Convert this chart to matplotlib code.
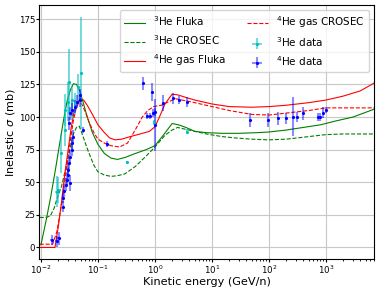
import numpy as np
import matplotlib.pyplot as plt

# model curves
e_he3_fluka = [0.0100, 0.0125, 0.015, 0.018, 0.021, 0.025, 0.029, 0.033, 0.037, 0.042, 0.048, 0.056,
               0.065, 0.08, 0.10, 0.13, 0.17, 0.22, 0.3, 0.45, 0.7, 1.0, 1.4, 2.0, 2.6, 3.5, 5, 8, 15,
               30, 60, 100, 200, 400, 800, 1500, 3000, 7000]
s_he3_fluka = [2, 22, 40, 60, 78, 98, 113, 121, 125.5, 125, 120, 110, 100, 88, 79, 72, 68.5, 67.5, 69,
               72, 75, 78, 86, 95, 94, 92, 89, 88, 87.5, 87.5, 88, 88.5, 90, 92, 94, 97, 100, 106]

e_he3_crosec = [0.0095, 0.012, 0.0145, 0.017, 0.019, 0.023, 0.027, 0.032, 0.037, 0.042, 0.047, 0.052,
                0.06, 0.07, 0.085, 0.10, 0.13, 0.17, 0.22, 0.3, 0.45, 0.7, 1.0, 1.5, 2.0, 2.5, 3.5, 5,
                8, 15, 25, 50, 100, 200, 500, 1000, 2000, 7000]
s_he3_crosec = [23, 23, 24, 30, 37, 47, 60, 75, 87, 92, 93, 88, 80, 72, 63, 58, 55.5, 54.5, 55, 56.5,
                62, 70, 77, 86, 90, 92, 90.5, 89, 87, 85, 84, 83, 82.5, 83, 85, 86.5, 87, 87]

e_he4_fluka = [0.0095, 0.0176, 0.020, 0.023, 0.026, 0.030, 0.034, 0.038, 0.043, 0.049, 0.056, 0.065,
               0.08, 0.10, 0.13, 0.16, 0.2, 0.26, 0.37, 0.55, 0.8, 1.0, 1.2, 1.5, 2.0, 2.5, 3.5, 5, 10,
               20, 50, 100, 200, 500, 1000, 2000, 4000, 7000]
s_he4_fluka = [0, 0, 15, 35, 55, 75, 92, 104, 111, 114, 113, 109, 102, 94, 88, 84, 82.5, 83, 85, 87,
               89, 92.5, 100, 110, 117.5, 117, 115, 113, 110, 108, 107.5, 108, 109, 111, 113, 116,
               120, 126]

e_he4_crosec = [0.0095, 0.016, 0.019, 0.022, 0.025, 0.029, 0.033, 0.037, 0.041, 0.046, 0.052, 0.06,
                0.07, 0.085, 0.1, 0.13, 0.17, 0.24, 0.33, 0.45, 0.6, 0.75, 0.95, 1.3, 1.8, 2.3, 3, 5,
                10, 20, 50, 100, 200, 500, 1000, 2000, 7000]
s_he4_crosec = [2.5, 2.5, 12, 28, 45, 65, 83, 97, 106, 111, 110, 104, 96, 88, 83, 80, 78, 77, 80, 90,
                100, 105, 108, 109, 112, 114, 113, 111, 108, 105, 102, 101.5, 103, 105, 107, 107, 107]

# measurements
e_he3 = [0.0188, 0.0201, 0.0229, 0.0263, 0.0266, 0.0300, 0.0305, 0.0344, 0.0350, 0.0393, 0.0450,
         0.0508, 0.321, 0.97, 3.7]
s_he3 = [42.8, 44, 72.2, 90, 105.4, 111.7, 127, 105.4, 113, 110.5, 123.2, 133.9, 65.3, 96, 88.7]
ds_he3 = [12, 10, 15, 12, 12, 15, 25, 8, 10, 8, 10, 43, 1, 2, 2]
de_he3 = [0.0008, 0, 0, 0, 0, 0, 0, 0, 0, 0, 0, 0, 0, 0, 0]

e_he4 = [0.0154, 0.0188, 0.0207, 0.0246, 0.0246, 0.0256, 0.0270, 0.0281, 0.0293, 0.0301, 0.0310,
         0.0322, 0.0322, 0.0344, 0.0344, 0.0368, 0.0305, 0.0326, 0.0350, 0.0400, 0.0426, 0.0475,
         0.0488, 0.0557, 0.1435, 0.628, 0.72, 0.82, 0.88, 0.94, 1.01, 1.0, 1.4, 2.11, 2.6, 3.7,
         46.6, 97.5, 146, 199, 261, 306, 400, 733, 800, 890, 1000]
s_he4 = [5.9, 4.6, 7.2, 31.4, 37.8, 42.9, 48, 51.8, 55.6, 59.5, 64.6, 49.3, 69.6, 74.8, 79.9, 84.9,
         95.2, 102.8, 105.4, 107.9, 111.7, 116.8, 113, 90, 79.3, 125.8, 100.8, 100.8, 119.4, 102.8,
         104, 93.9, 110.5, 114.3, 113, 111.7, 97.7, 97.7, 99, 99, 100.2, 100, 102.8, 99.8, 99.8,
         103.3, 105.4]
ds_he4 = [4, 4, 5, 4, 4, 4, 5, 5, 5, 5, 5, 6, 5, 5, 5, 5, 5, 5, 5, 5, 5, 5, 5, 2, 2, 5, 2, 2, 7, 3,
          3, 20, 6, 4, 3, 4, 5, 5, 5, 4, 15, 4, 5, 3, 3, 4, 2]
de_he4 = [0.0012, 0.001, 0.0012] + [0] * 44

fig = plt.figure(figsize=(3.79, 2.95), dpi=100)
ax = fig.add_axes([0.104, 0.122, 0.883, 0.861])

ax.plot(e_he3_fluka, s_he3_fluka, color='green', lw=0.8, label=r'$^{3}$He Fluka')
ax.plot(e_he3_crosec, s_he3_crosec, color='green', lw=0.8, ls='--', label=r'$^{3}$He CROSEC')
ax.plot(e_he4_fluka, s_he4_fluka, color='red', lw=0.8, label=r'$^{4}$He gas Fluka')
ax.plot(e_he4_crosec, s_he4_crosec, color='red', lw=0.8, ls='--', label=r'$^{4}$He gas CROSEC')

ax.errorbar(e_he3, s_he3, yerr=ds_he3, xerr=de_he3, fmt='.', ms=2.5, color='c',
            ecolor=(0, 0.75, 0.75, 0.6), elinewidth=1.3, label=r'$^{3}$He data')
ax.errorbar(e_he4, s_he4, yerr=ds_he4, xerr=de_he4, fmt='.', ms=2.5, color='b',
            ecolor=(0, 0, 1, 0.45), elinewidth=1.5, label=r'$^{4}$He data')

ax.set_xscale('log')
ax.set_xlim(0.0094, 7000)
ax.set_ylim(-8.85, 185.85)
ax.set_yticks([0, 25, 50, 75, 100, 125, 150, 175])
ax.tick_params(labelsize=6.2, length=2, pad=1)
ax.tick_params(which='minor', length=1.2)
ax.grid(True, color='#c8c8c8', lw=0.8)
ax.set_xlabel('Kinetic energy (GeV/n)', fontsize=8.1, labelpad=1)
ax.set_ylabel(r'Inelastic $\sigma$ (mb)', fontsize=8.1, labelpad=1)
ax.legend(ncol=2, fontsize=7.5, loc='upper right')

fig.savefig('out.png')
